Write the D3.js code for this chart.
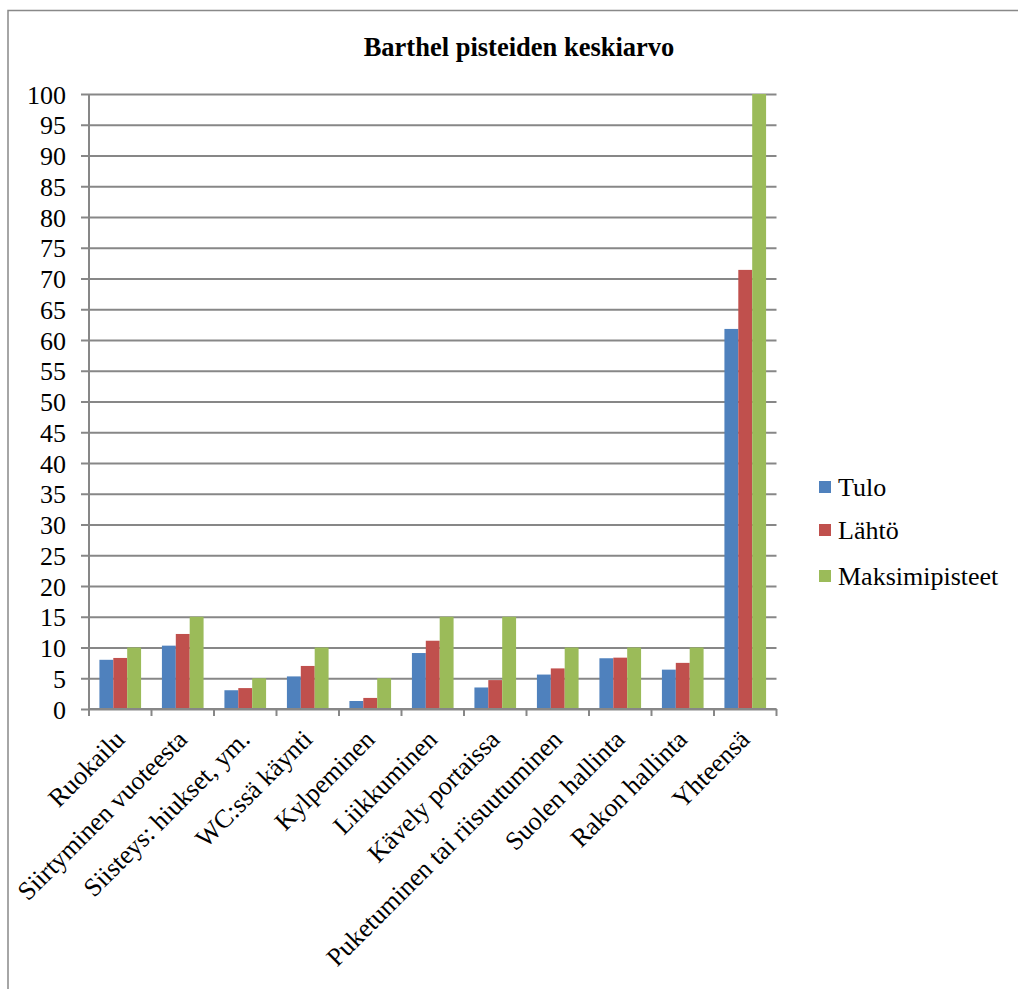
<!DOCTYPE html>
<html>
<head>
<meta charset="utf-8">
<script src="https://cdn.jsdelivr.net/npm/d3@7"></script>
<style>
  body { margin: 0; background: #fff; }
  svg { display: block; }
  svg text { font-family: "Liberation Serif", "Times New Roman", serif; }
</style>
</head>
<body>
<div id="chart"></div>
<script>
// data
const categories = [
  "Ruokailu", "Siirtyminen vuoteesta", "Siisteys: hiukset, ym.", "WC:ssä käynti",
  "Kylpeminen", "Liikkuminen", "Kävely portaissa", "Puketuminen tai riisuutuminen",
  "Suolen hallinta", "Rakon hallinta", "Yhteensä"
]
const seriesNames = ["Tulo", "Lähtö", "Maksimipisteet"]
const tulo = [8.0, 10.3, 3.05, 5.3, 1.3, 9.1, 3.5, 5.6, 8.25, 6.4, 61.8]
const lahto = [8.3, 12.2, 3.4, 7.0, 1.8, 11.1, 4.7, 6.6, 8.35, 7.5, 71.4]
const maksimi = [10, 15, 5, 10, 5, 15, 15, 10, 10, 10, 100]
const yTicks = d3.range(0, 101, 5)
const colors = ["#4F81BD", "#C0504D", "#9BBB59"]

const width = 1018, height = 989
const svg = d3.select('#chart').append('svg').attr('width', width).attr('height', height)

// outer chart frame (right/bottom edges fall outside the picture)
svg.append('rect')
  .attr('x', 8).attr('y', 10.5)
  .attr('width', 1020).attr('height', 1000)
  .attr('fill', 'none').attr('stroke', '#898989').attr('stroke-width', 1.5)

svg.append('text')
  .attr('x', 519).attr('y', 56)
  .attr('text-anchor', 'middle')
  .style('font-size', '26.5px').style('font-weight', 'bold')
  .text('Barthel pisteiden keskiarvo')

const plotL = 89, plotR = 776.5, plotT = 94, plotB = 709

const yScale = d3.scaleLinear().domain([0, 100]).range([plotB, plotT])
const x0 = d3.scaleBand().domain(categories).range([plotL, plotR]).padding(0)
const x1 = d3.scaleBand().domain(seriesNames).range([0, x0.bandwidth()]).paddingInner(0).paddingOuter(0.75)

const g = svg.append('g')

// gridlines (axisLeft with full-width ticks)
const yAxis = d3.axisLeft(yScale).tickValues(yTicks).tickSize(-(plotR - plotL)).tickSizeOuter(0).tickFormat(d3.format('d'))
const yg = g.append('g').attr('transform', `translate(${plotL},0)`).call(yAxis)
yg.attr('font-family', null).attr('font-size', null)
yg.select('.domain').remove()
yg.selectAll('.tick line')
  .attr('x1', -8)
  .attr('stroke', '#878787').attr('stroke-width', 2)
yg.selectAll('.tick text')
  .attr('x', -23).attr('dy', '0.35em')
  .style('font-size', '26px').attr('fill', '#000')

// bars
const rows = categories.map((c, i) => ({ category: c, values: [tulo[i], lahto[i], maksimi[i]] }))
const groups = g.selectAll('.grp').data(rows).enter().append('g')
  .attr('class', 'grp')
  .attr('transform', d => `translate(${x0(d.category)},0)`)
groups.selectAll('rect')
  .data(d => d.values.map((v, j) => ({ name: seriesNames[j], value: v, j: j })))
  .enter().append('rect')
  .attr('x', d => x1(d.name))
  .attr('y', d => yScale(d.value))
  .attr('width', x1.bandwidth())
  .attr('height', d => plotB - yScale(d.value))
  .attr('fill', d => colors[d.j])

// y axis line
g.append('line')
  .attr('x1', plotL).attr('x2', plotL).attr('y1', plotT).attr('y2', plotB)
  .attr('stroke', '#878787').attr('stroke-width', 2)

// x axis
const xTickPos = categories.map(c => x0(c)).concat([plotR])
g.append('line')
  .attr('x1', plotL).attr('x2', plotR).attr('y1', plotB).attr('y2', plotB)
  .attr('stroke', '#878787').attr('stroke-width', 2)
g.selectAll('.xtick').data(xTickPos).enter().append('line')
  .attr('x1', d => d).attr('x2', d => d)
  .attr('y1', plotB).attr('y2', plotB + 7)
  .attr('stroke', '#878787').attr('stroke-width', 2)

g.selectAll('.xlabel').data(categories).enter().append('text')
  .attr('text-anchor', 'end')
  .attr('transform', d => `translate(${x0(d) + x0.bandwidth() / 2 + 6},741) rotate(-45)`)
  .style('font-size', '26px')
  .text(d => d)

// legend
const legend = svg.append('g')
const legY = [487, 530, 576]
seriesNames.forEach((name, i) => {
  legend.append('rect')
    .attr('x', 819).attr('y', legY[i] - 6)
    .attr('width', 12).attr('height', 12)
    .attr('fill', colors[i])
  legend.append('text')
    .attr('x', 838).attr('y', legY[i]).attr('dy', '0.35em')
    .style('font-size', '26px')
    .text(name)
})
</script>
</body>
</html>
